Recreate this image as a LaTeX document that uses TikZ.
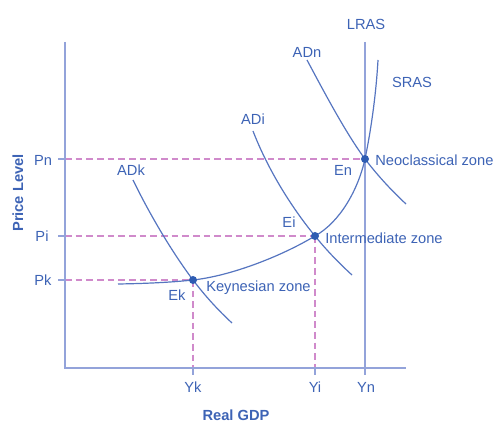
\documentclass[tikz,border=0pt]{standalone}
\usepackage{fontspec}
\setmainfont{Liberation Sans}
\begin{document}
\begin{tikzpicture}[x=0.75pt,y=-0.75pt,
  lbl/.style={text=txtblue,font=\fontsize{11}{13}\selectfont,inner sep=0pt},
  axlbl/.style={text=txtblue,font=\fontsize{11}{13}\selectfont\bfseries,inner sep=0pt},
  axisline/.style={draw=axblue,line width=1.4pt},
  curve/.style={draw=curveblue,line width=0.9pt},
  guide/.style={draw=guidepink,line width=0.8pt,dash pattern=on 5pt off 3pt},
  tick/.style={draw=axblue,line width=0.8pt},
  dot/.style={circle,fill=dotblue,inner sep=0pt,minimum size=6pt}]
\definecolor{txtblue}{HTML}{3D63B5}
\definecolor{axblue}{HTML}{93A3DA}
\definecolor{curveblue}{HTML}{5675C0}
\definecolor{guidepink}{HTML}{D08ACB}
\definecolor{dotblue}{HTML}{2E5CB2}
\useasboundingbox (0,0) rectangle (496,423);
% key coordinates
\coordinate (O) at (65,368);
\coordinate (Ytop) at (65,42);
\coordinate (Xend) at (406,368);
\coordinate (Ltop) at (365,42);
\coordinate (Lbot) at (365,375);
\coordinate (PnT) at (58,159);
\coordinate (PiT) at (58,236);
\coordinate (PkT) at (58,280);
\coordinate (PnA) at (65,159);
\coordinate (PiA) at (65,236);
\coordinate (PkA) at (65,280);
\coordinate (YkA) at (193,368);
\coordinate (YiA) at (315,368);
\coordinate (YkT) at (193,375);
\coordinate (YiT) at (315,375);
\coordinate (Pen) at (365,159);
\coordinate (Pei) at (315,236);
\coordinate (Pek) at (193,280);
% guides
\draw[guide] (PnA) -- (Pen);
\draw[guide] (PiA) -- (Pei);
\draw[guide] (PkA) -- (Pek);
\draw[guide] (Pek) -- (YkA);
\draw[guide] (Pei) -- (YiA);
% axes
\draw[axisline] (Ytop) -- (O) -- (Xend);
\draw[axisline] (Ltop) -- (Lbot);
\draw[tick] (PnT) -- (PnA);
\draw[tick] (PiT) -- (PiA);
\draw[tick] (PkT) -- (PkA);
\draw[tick] (YkA) -- (YkT);
\draw[tick] (YiA) -- (YiT);
% SRAS
\draw[curve] (118,284) .. controls (150,283.5) and (175,282) .. (Pek)
  .. controls (230,276) and (280,257) .. (Pei)
  .. controls (340,222) and (358,190) .. (Pen)
  .. controls (371,130) and (376,95) .. (378,60);
% ADk
\draw[curve] (133,180) .. controls (150,215) and (172,252) .. (Pek)
  .. controls (206,297) and (218,310) .. (232,323);
% ADi
\draw[curve] (253,131) .. controls (268,170) and (292,208) .. (Pei)
  .. controls (328,252) and (340,264) .. (352,275);
% ADn
\draw[curve] (307,60) .. controls (322,88) and (345,132) .. (Pen)
  .. controls (378,176) and (392,191) .. (406,204);
% equilibrium dots
\node[dot] (En) at (Pen) {};
\node[dot] (Ei) at (Pei) {};
\node[dot] (Ek) at (Pek) {};
% labels
\node[lbl] (lLRAS) at (366,24) {LRAS};
\node[lbl] (lSRAS) at (412,82) {SRAS};
\node[lbl] (lADn) at (307,52) {ADn};
\node[lbl] (lADi) at (253,119) {ADi};
\node[lbl] (lADk) at (131,170) {ADk};
\node[lbl] (lEn) at (343,170) {En};
\node[lbl] (lEi) at (289,222) {Ei};
\node[lbl] (lEk) at (177,295) {Ek};
\node[lbl,anchor=west] (zN) at (375,160) {Neoclassical zone};
\node[lbl,anchor=west] (zI) at (325,238) {Intermediate zone};
\node[lbl,anchor=west] (zK) at (206,288) {Keynesian zone};
\node[lbl] (lPn) at (43,160) {Pn};
\node[lbl] (lPi) at (42,236) {Pi};
\node[lbl] (lPk) at (43,280) {Pk};
\node[lbl] (lYk) at (193,387) {Yk};
\node[lbl] (lYi) at (315,387) {Yi};
\node[lbl] (lYn) at (366,387) {Yn};
\node[axlbl] (xl) at (236,415) {Real GDP};
\node[axlbl,rotate=90] (yl) at (18,193) {Price Level};
\end{tikzpicture}
\end{document}
